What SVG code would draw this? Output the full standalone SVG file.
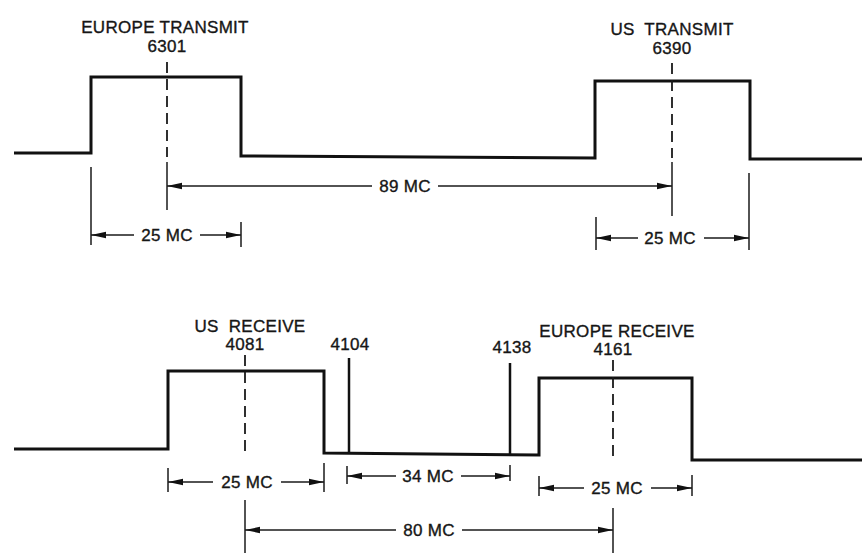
<svg xmlns="http://www.w3.org/2000/svg" width="862" height="553" viewBox="0 0 862 553">
<style>
.wave{fill:none;stroke:#111;stroke-width:3;stroke-linejoin:miter}
.dim{fill:none;stroke:#1a1a1a;stroke-width:1.5}
.dash{fill:none;stroke:#1a1a1a;stroke-width:1.8;stroke-dasharray:11,6}
.spike{stroke:#111;stroke-width:2.5}
text{font-family:"Liberation Sans",Arial,sans-serif;font-size:17px;fill:#161616;stroke:#161616;stroke-width:0.35;text-anchor:middle;letter-spacing:0.3px}
</style>
<defs>
<marker id="ah" markerUnits="userSpaceOnUse" markerWidth="16" markerHeight="8" refX="15" refY="4" orient="auto-start-reverse">
<path d="M0,0.8 L15,4 L0,7.2 z" fill="#111"/>
</marker>
</defs>
<rect width="862" height="553" fill="#fff"/>

<g id="top-waveform">
<path class="wave" d="M14,153 L91,153 L91,77 L241,77 L241,156 L595,158 L595,81 L750,81 L750,159 L862,159"/>
</g>
<g id="europe-transmit">
<text x="165" y="33">EUROPE TRANSMIT</text>
<text x="167" y="52">6301</text>
<line class="dash" x1="167" y1="62" x2="167" y2="157"/>
<line class="dim" x1="167" y1="162" x2="167" y2="210"/>
</g>
<g id="us-transmit">
<text x="672" y="35" xml:space="preserve">US  TRANSMIT</text>
<text x="672" y="54">6390</text>
<line class="dash" x1="672" y1="63" x2="672" y2="158"/>
<line class="dim" x1="672" y1="162" x2="672" y2="216"/>
</g>

<g id="bottom-waveform">
<path class="wave" d="M14,449 L168,449 L168,371 L324,371 L324,453 L539,455 L539,378 L692,378 L692,460 L862,460"/>
</g>
<g id="us-receive">
<text x="250" y="332" xml:space="preserve">US  RECEIVE</text>
<text x="245" y="350">4081</text>
<line class="dash" x1="245" y1="355" x2="245" y2="451"/>
<line class="dim" x1="245" y1="500" x2="245" y2="553"/>
</g>
<g id="marker-4104">
<text x="350" y="350">4104</text>
<line class="spike" x1="349" y1="358" x2="349" y2="453"/>
</g>
<g id="marker-4138">
<text x="512" y="353">4138</text>
<line class="spike" x1="510" y1="363" x2="510" y2="455"/>
</g>
<g id="europe-receive">
<text x="617" y="337">EUROPE RECEIVE</text>
<text x="613" y="355">4161</text>
<line class="dash" x1="613" y1="360" x2="613" y2="457"/>
<line class="dim" x1="613" y1="508" x2="613" y2="553"/>
</g>

<g id="connectors">
<!-- 89 MC -->
<line class="dim" x1="372" y1="186" x2="167" y2="186" marker-end="url(#ah)"/>
<line class="dim" x1="438" y1="186" x2="672" y2="186" marker-end="url(#ah)"/>
<text x="405" y="192">89 MC</text>
<!-- top left 25 MC -->
<line class="dim" x1="91" y1="167" x2="91" y2="245"/>
<line class="dim" x1="241" y1="222" x2="241" y2="247"/>
<line class="dim" x1="134" y1="235" x2="91" y2="235" marker-end="url(#ah)"/>
<line class="dim" x1="200" y1="235" x2="241" y2="235" marker-end="url(#ah)"/>
<text x="167" y="241">25 MC</text>
<!-- top right 25 MC -->
<line class="dim" x1="596" y1="217" x2="596" y2="250"/>
<line class="dim" x1="749" y1="173" x2="749" y2="250"/>
<line class="dim" x1="638" y1="238" x2="596" y2="238" marker-end="url(#ah)"/>
<line class="dim" x1="704" y1="238" x2="749" y2="238" marker-end="url(#ah)"/>
<text x="670" y="244">25 MC</text>
<!-- bottom left 25 MC -->
<line class="dim" x1="168" y1="468" x2="168" y2="492"/>
<line class="dim" x1="324" y1="463" x2="324" y2="492"/>
<line class="dim" x1="213" y1="482" x2="168" y2="482" marker-end="url(#ah)"/>
<line class="dim" x1="281" y1="482" x2="324" y2="482" marker-end="url(#ah)"/>
<text x="247" y="488">25 MC</text>
<!-- 34 MC -->
<line class="dim" x1="347" y1="466" x2="347" y2="484"/>
<line class="dim" x1="510" y1="465" x2="510" y2="481"/>
<line class="dim" x1="396" y1="476" x2="347" y2="476" marker-end="url(#ah)"/>
<line class="dim" x1="461" y1="476" x2="510" y2="476" marker-end="url(#ah)"/>
<text x="428" y="482">34 MC</text>
<!-- bottom right 25 MC -->
<line class="dim" x1="539" y1="476" x2="539" y2="496"/>
<line class="dim" x1="692" y1="475" x2="692" y2="496"/>
<line class="dim" x1="584" y1="488" x2="539" y2="488" marker-end="url(#ah)"/>
<line class="dim" x1="651" y1="488" x2="692" y2="488" marker-end="url(#ah)"/>
<text x="617" y="494">25 MC</text>
<!-- 80 MC -->
<line class="dim" x1="396" y1="530" x2="245" y2="530" marker-end="url(#ah)"/>
<line class="dim" x1="462" y1="530" x2="613" y2="530" marker-end="url(#ah)"/>
<text x="429" y="536">80 MC</text>
</g>
</svg>
